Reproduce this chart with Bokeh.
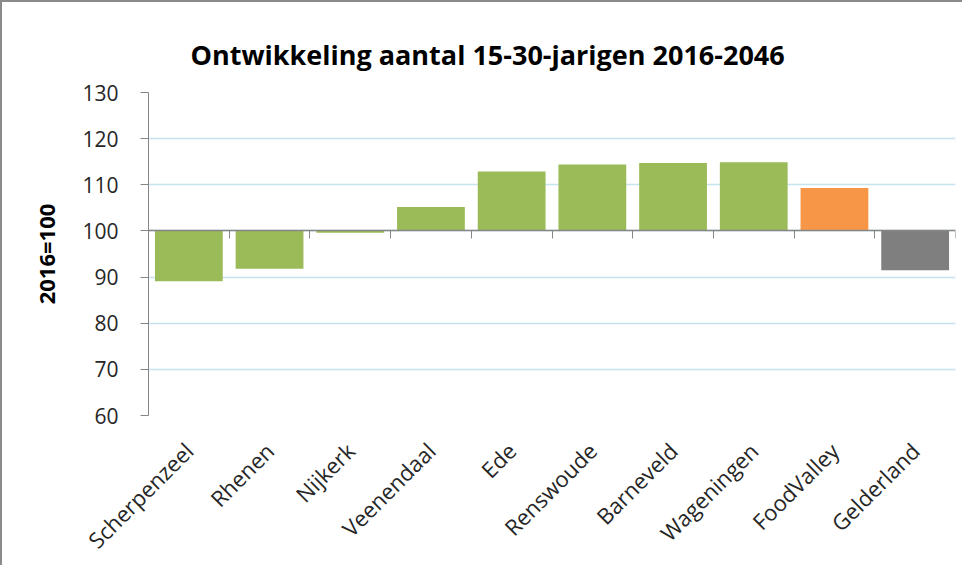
import math
from bokeh.plotting import figure
from bokeh.models import LinearAxis, FixedTicker, Range1d, FactorRange
from bokeh.embed import file_html
from bokeh.resources import INLINE

categories = ["Scherpenzeel", "Rhenen", "Nijkerk", "Veenendaal", "Ede",
              "Renswoude", "Barneveld", "Wageningen", "FoodValley", "Gelderland"]
values = [89.1, 91.8, 99.6, 105.2, 112.9, 114.4, 114.7, 114.9, 109.3, 91.5]
colors = ["#9BBB59"] * 8 + ["#F79646", "#7F7F7F"]
baseline = 100
y_ticks = [60, 70, 80, 90, 100, 110, 120, 130]
title_text = "Ontwikkeling aantal 15-30-jarigen 2016-2046"
y_label = "2016=100"

FONT = "Open Sans"

p = figure(x_range=FactorRange(*categories), y_range=Range1d(60, 130),
           width=962, height=565, output_backend="svg", toolbar_location=None,
           min_border_left=146, min_border_right=9, min_border_top=90,
           min_border_bottom=150)
p.styles = {"border-left": "2px solid #8a8a8a", "border-top": "2px solid #8a8a8a"}

p.title.text = title_text
p.title.text_font = FONT
p.title.text_font_size = "27px"
p.title.text_font_style = "bold"
p.title.text_color = "#000000"
p.title.align = "left"
p.title.vertical_align = "top"
p.title.offset = 42
p.title.standoff = 35

p.outline_line_color = None
p.background_fill_color = "white"

p.vbar(x=categories, top=values, bottom=baseline, width=0.84,
       fill_color=colors, line_color=None)

# y axis
yax = p.yaxis[0]
yax.ticker = FixedTicker(ticks=y_ticks)
yax.axis_line_color = "#868686"
yax.major_tick_line_color = "#868686"
yax.major_tick_in = 0
yax.major_tick_out = 8
yax.minor_tick_line_color = None
yax.major_label_text_font = FONT
yax.major_label_text_font_size = "21px"
yax.major_label_text_color = "#262626"
yax.major_label_standoff = 22
yax.axis_label = y_label
yax.axis_label_text_font = FONT
yax.axis_label_text_font_size = "22px"
yax.axis_label_text_font_style = "bold"
yax.axis_label_text_color = "#000000"
yax.axis_label_standoff = 18

p.ygrid.grid_line_color = "#C5E4EE"
p.ygrid.grid_line_width = 1.5
p.xgrid.grid_line_color = None

# category labels
xax = p.xaxis[0]
xax.axis_line_color = None
xax.major_tick_line_color = None
xax.major_label_orientation = math.pi / 4
xax.major_label_text_font = FONT
xax.major_label_text_font_size = "22px"
xax.major_label_text_color = "#262626"
xax.major_label_standoff = 25

# baseline axis at 100 with ticks between categories
base_axis = LinearAxis(fixed_location=baseline,
                       ticker=FixedTicker(ticks=list(range(len(categories) + 1))),
                       axis_line_color="#868686", axis_line_width=1.5,
                       major_tick_line_color="#868686", major_tick_in=0,
                       major_tick_out=8, minor_tick_line_color=None,
                       major_label_text_color=None, major_label_text_font_size="1px")
p.add_layout(base_axis, "below")

open("out.html", "w").write(file_html(p, INLINE))
